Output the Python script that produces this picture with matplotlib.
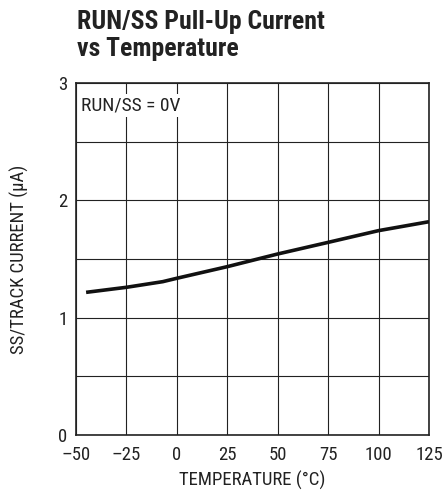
import matplotlib
matplotlib.use("Agg")
import matplotlib.pyplot as plt
from matplotlib.ticker import MultipleLocator

plt.rcParams['font.family'] = ['Roboto Condensed', 'PT Sans Narrow', 'DejaVu Sans']

temperature = [-45, -25, -7, 0, 25, 50, 75, 100, 125]
current = [1.216, 1.259, 1.307, 1.336, 1.435, 1.543, 1.642, 1.742, 1.818]

xticks = [-50, -25, 0, 25, 50, 75, 100, 125]
xtick_labels = ['–50', '–25', '0', '25', '50', '75', '100', '125']
yticks = [0, 1, 2, 3]
ytick_labels = ['0', '1', '2', '3']

fig = plt.figure(figsize=(4.44, 4.93), dpi=100)
ax = fig.add_axes([0.1712, 0.1176, 0.795, 0.714])

ax.plot(temperature, current, color='#111111', lw=2.6, solid_capstyle='butt', zorder=3)

ax.set_xlim(-50, 125)
ax.set_ylim(0, 3)
ax.set_xticks(xticks)
ax.set_xticklabels(xtick_labels)
ax.set_yticks(yticks)
ax.set_yticklabels(ytick_labels)
ax.xaxis.set_minor_locator(MultipleLocator(25))
ax.yaxis.set_minor_locator(MultipleLocator(0.5))
ax.grid(which='both', color='#222222', lw=0.8)
ax.tick_params(which='both', length=0, labelsize=13.5, colors='#222222')
ax.tick_params(axis='y', pad=6)
ax.tick_params(axis='x', pad=8)
for s in ax.spines.values():
    s.set_linewidth(1.2)
    s.set_color('#222222')

ax.set_xlabel('TEMPERATURE (°C)', fontsize=13.5, color='#222222', labelpad=5)
ax.set_ylabel('SS/TRACK CURRENT (μA)', fontsize=13.5, color='#222222', labelpad=21)

ax.text(-47.5, 2.81, 'RUN/SS = 0V', fontsize=14, color='#222222', va='center', ha='left',
        bbox=dict(facecolor='white', edgecolor='none', pad=2), zorder=4)

fig.text(77/444, 1 - 10/493, 'RUN/SS Pull-Up Current\nvs Temperature', fontsize=18.5,
         fontweight='bold', color='#222222', ha='left', va='top', linespacing=1.15)

fig.savefig('out.png', dpi=100)
